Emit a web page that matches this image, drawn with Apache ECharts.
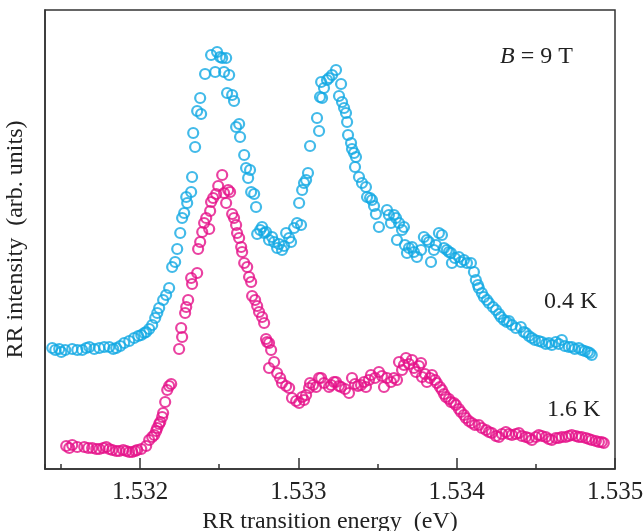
<!DOCTYPE html>
<html>
<head>
<meta charset="utf-8">
<script src="https://cdn.jsdelivr.net/npm/echarts@6/dist/echarts.min.js"></script>
<style>
  html, body { margin: 0; padding: 0; background: #fff; }
  #chart { width: 643px; height: 531px; }
</style>
</head>
<body>
<div id="chart"></div>
<script>
// energies in eV, intensity in arbitrary units
var energy04 = [
  1.531446, 1.531465, 1.531490, 1.531503, 1.531528, 1.531572, 1.531604, 1.531635, 1.531661, 1.531680,
  1.531711, 1.531743, 1.531774, 1.531806, 1.531831, 1.531850, 1.531875, 1.531900, 1.531932, 1.531963,
  1.531989, 1.532008, 1.532027, 1.532039, 1.532058, 1.532077, 1.532096, 1.532109, 1.532121, 1.532146,
  1.532165, 1.532184, 1.532203, 1.532222, 1.532235, 1.532254, 1.532266, 1.532279, 1.532292, 1.532298,
  1.532323, 1.532329, 1.532336, 1.532348, 1.532361, 1.532380, 1.532386, 1.532411, 1.532449, 1.532475,
  1.532487, 1.532506, 1.532519, 1.532531, 1.532544, 1.532563, 1.532550, 1.532582, 1.532594, 1.532607,
  1.532626, 1.532632, 1.532658, 1.532670, 1.532683, 1.532695, 1.532702, 1.532721, 1.532733, 1.532740,
  1.532759, 1.532771, 1.532784, 1.532796, 1.532815, 1.532834, 1.532847, 1.532866, 1.532878, 1.532897,
  1.532910, 1.532923, 1.532942, 1.532954, 1.532973, 1.532992, 1.533017, 1.533005, 1.533024, 1.533036,
  1.533049, 1.533061, 1.533074, 1.533118, 1.533131, 1.533137, 1.533144, 1.533150, 1.533162, 1.533181,
  1.533194, 1.533213, 1.533238, 1.533257, 1.533270, 1.533276, 1.533289, 1.533301, 1.533308, 1.533314,
  1.533333, 1.533339, 1.533352, 1.533364, 1.533358, 1.533383, 1.533402, 1.533427, 1.533434, 1.533453,
  1.533465, 1.533478, 1.533490, 1.533509, 1.533560, 1.533572, 1.533585, 1.533604, 1.533617, 1.533636,
  1.533623, 1.533655, 1.533667, 1.533673, 1.533686, 1.533699, 1.533718, 1.533730, 1.533749, 1.533775,
  1.533793, 1.533812, 1.533825, 1.533838, 1.533856, 1.533869, 1.533888, 1.533907, 1.533920, 1.533938,
  1.533951, 1.533964, 1.533970, 1.533989, 1.534014, 1.534027, 1.534046, 1.534065, 1.534090, 1.534109,
  1.534121, 1.534134, 1.534140, 1.534159, 1.534172, 1.534191, 1.534204, 1.534229, 1.534248, 1.534267,
  1.534279, 1.534298, 1.534317, 1.534330, 1.534349, 1.534374, 1.534405, 1.534424, 1.534437, 1.534456,
  1.534475, 1.534494, 1.534519, 1.534538, 1.534563, 1.534582, 1.534601, 1.534626, 1.534645, 1.534664,
  1.534683, 1.534708, 1.534727, 1.534746, 1.534771, 1.534790, 1.534809, 1.534828, 1.534841, 1.534853
];
var intensity04 = [
  121, 119, 120, 117, 119, 120, 119, 119, 121, 122,
  120, 121, 122, 122, 120, 121, 123, 126, 128, 131,
  133, 134, 136, 137, 140, 144, 151, 156, 161, 169,
  174, 181, 202, 207, 220, 236, 251, 256, 272, 266,
  277, 292, 336, 322, 358, 371, 355, 395, 414, 397,
  417, 412, 411, 397, 411, 394, 376, 374, 368, 342,
  345, 332, 314, 301, 291, 299, 277, 275, 262, 235,
  239, 242, 236, 237, 229, 232, 227, 221, 225, 219,
  223, 236, 231, 227, 241, 246, 244, 266, 279, 286,
  289, 296, 323, 351, 338, 372, 387, 371, 381, 389,
  391, 394, 399, 373, 385, 367, 361, 356, 347, 334,
  326, 320, 316, 312, 302, 292, 286, 282, 272, 271,
  269, 263, 255, 242, 259, 254, 246, 254, 251, 246,
  229, 239, 242, 224, 216, 221, 222, 217, 212, 219,
  232, 229, 227, 207, 219, 224, 236, 234, 221, 219,
  217, 216, 206, 211, 212, 207, 209, 206, 206, 197,
  189, 184, 181, 176, 172, 169, 166, 162, 159, 155,
  152, 149, 147, 148, 144, 141, 142, 137, 136, 133,
  131, 129, 128, 127, 125, 126, 124, 127, 125, 129,
  123, 122, 122, 120, 121, 119, 118, 117, 116, 114
];

var energy16 = [
  1.531534, 1.531553, 1.531572, 1.531604, 1.531648, 1.531673, 1.531698, 1.531724, 1.531743, 1.531768,
  1.531787, 1.531806, 1.531825, 1.531850, 1.531869, 1.531894, 1.531913, 1.531932, 1.531951, 1.531970,
  1.531982, 1.532008, 1.532039, 1.532058, 1.532077, 1.532090, 1.532102, 1.532109, 1.532121, 1.532128,
  1.532140, 1.532146, 1.532159, 1.532172, 1.532184, 1.532197, 1.532247, 1.532260, 1.532266, 1.532285,
  1.532292, 1.532304, 1.532323, 1.532329, 1.532361, 1.532367, 1.532380, 1.532393, 1.532405, 1.532418,
  1.532437, 1.532443, 1.532449, 1.532462, 1.532481, 1.532494, 1.532519, 1.532531, 1.532544, 1.532557,
  1.532569, 1.532582, 1.532594, 1.532607, 1.532613, 1.532626, 1.532639, 1.532645, 1.532658, 1.532677,
  1.532689, 1.532702, 1.532708, 1.532727, 1.532740, 1.532752, 1.532771, 1.532784, 1.532796, 1.532803,
  1.532815, 1.532828, 1.532815, 1.532847, 1.532866, 1.532885, 1.532897, 1.532923, 1.532942, 1.532960,
  1.532986, 1.533005, 1.533024, 1.533036, 1.533049, 1.533068, 1.533074, 1.533093, 1.533112, 1.533131,
  1.533144, 1.533162, 1.533194, 1.533207, 1.533225, 1.533238, 1.533257, 1.533270, 1.533295, 1.533320,
  1.533339, 1.533358, 1.533377, 1.533396, 1.533415, 1.533427, 1.533446, 1.533459, 1.533484, 1.533509,
  1.533528, 1.533541, 1.533560, 1.533585, 1.533604, 1.533623, 1.533636, 1.533655, 1.533667, 1.533680,
  1.533699, 1.533718, 1.533730, 1.533743, 1.533762, 1.533775, 1.533781, 1.533800, 1.533812, 1.533831,
  1.533844, 1.533863, 1.533875, 1.533894, 1.533907, 1.533920, 1.533932, 1.533951, 1.533964, 1.533983,
  1.533995, 1.534014, 1.534027, 1.534046, 1.534058, 1.534077, 1.534096, 1.534115, 1.534140, 1.534159,
  1.534185, 1.534204, 1.534222, 1.534248, 1.534267, 1.534286, 1.534311, 1.534330, 1.534349, 1.534374,
  1.534393, 1.534412, 1.534437, 1.534456, 1.534475, 1.534500, 1.534519, 1.534538, 1.534563, 1.534582,
  1.534601, 1.534626, 1.534645, 1.534664, 1.534689, 1.534708, 1.534727, 1.534753, 1.534771, 1.534790,
  1.534816, 1.534835, 1.534853, 1.534879, 1.534898, 1.534916, 1.534929
];
var intensity16 = [
  23, 21, 24, 22, 22, 21, 21, 20, 20, 21,
  22, 20, 19, 18, 18, 19, 18, 17, 17, 18,
  19, 20, 23, 29, 32, 34, 38, 41, 45, 47,
  52, 56, 67, 79, 83, 85, 120, 141, 132, 156,
  162, 169, 191, 185, 196, 220, 227, 237, 246, 251,
  240, 258, 267, 271, 275, 283, 294, 276, 266, 279,
  277, 255, 251, 244, 236, 231, 222, 217, 206, 202,
  192, 187, 173, 169, 163, 157, 152, 146, 130, 127,
  126, 119, 101, 107, 96, 91, 86, 83, 81, 71,
  68, 66, 72, 69, 74, 81, 86, 84, 82, 91,
  91, 86, 82, 84, 87, 87, 83, 82, 80, 76,
  91, 85, 83, 84, 87, 82, 89, 94, 91, 97,
  93, 82, 91, 87, 91, 89, 107, 99, 104, 111,
  105, 109, 101, 97, 103, 106, 92, 95, 87, 91,
  94, 89, 86, 82, 79, 75, 72, 70, 67, 66,
  64, 60, 57, 54, 51, 48, 46, 44, 44, 41,
  39, 37, 36, 33, 32, 35, 37, 35, 34, 35,
  36, 33, 32, 31, 29, 32, 34, 33, 32, 30,
  29, 31, 31, 32, 32, 33, 34, 33, 32, 32,
  31, 30, 29, 28, 27, 27, 26
];

var colorCold = '#13a9e3';
var colorWarm = '#e5118a';
var serif = 'Liberation Serif';

function pairs(xs, ys) {
  var out = [];
  for (var i = 0; i < xs.length; i++) out.push([xs[i], ys[i]]);
  return out;
}

var myChart = echarts.init(document.getElementById('chart'));
var option = {
  animation: false,
  grid: {
    left: 45, right: 28, top: 10, bottom: 62,
    outerBoundsMode: 'none', containLabel: false,
    show: true, borderColor: '#333', borderWidth: 1.5, backgroundColor: 'transparent'
  },
  xAxis: [
    {
      type: 'value', min: 1.5314, max: 1.535, splitNumber: 4,
      position: 'bottom',
      axisLine: { lineStyle: { color: '#333', width: 1.5 } },
      axisTick: { inside: true, length: 11, lineStyle: { color: '#333', width: 1.5 } },
      axisLabel: {
        showMinLabel: false, color: '#222', fontFamily: serif, fontSize: 25, margin: 11,
        formatter: function (v) { return v.toFixed(3); }
      },
      splitLine: { show: false },
      name: 'RR transition energy  (eV)', nameLocation: 'middle', nameGap: 38,
      nameTextStyle: { color: '#222', fontFamily: serif, fontSize: 24 }
    },
    {
      // minor ticks every 0.0005 eV
      type: 'value', min: 1.5314, max: 1.535, splitNumber: 8,
      position: 'bottom',
      axisLine: { show: false },
      axisTick: { inside: true, length: 5, lineStyle: { color: '#333', width: 1.5 } },
      axisLabel: { show: false },
      splitLine: { show: false }
    }
  ],
  yAxis: {
    type: 'value', min: 0, max: 459,
    axisLine: { show: true, lineStyle: { color: '#333', width: 1.5 } },
    axisTick: { show: false },
    axisLabel: { show: false },
    splitLine: { show: false },
    name: 'RR intensity  (arb. units)', nameLocation: 'middle', nameGap: 17, nameRotate: 90,
    nameTextStyle: { color: '#222', fontFamily: serif, fontSize: 24 }
  },
  graphic: [
    {
      type: 'text', left: 500, top: 45,
      style: {
        text: '{i|B} = 9 T', fill: '#222', font: '24px "Liberation Serif"',
        rich: { i: { fontStyle: 'italic', fontFamily: serif, fontSize: 24, fill: '#222' } }
      }
    },
    { type: 'text', left: 544, top: 290, style: { text: '0.4 K', fill: '#222', font: '24px "Liberation Serif"' } },
    { type: 'text', left: 547, top: 398, style: { text: '1.6 K', fill: '#222', font: '24px "Liberation Serif"' } }
  ],
  series: [
    {
      name: '0.4 K', type: 'scatter', xAxisIndex: 0,
      data: pairs(energy04, intensity04),
      symbol: 'circle', symbolSize: 10,
      itemStyle: { color: 'rgba(255,255,255,0)', borderColor: colorCold, borderWidth: 2.2 }
    },
    {
      name: '1.6 K', type: 'scatter', xAxisIndex: 0,
      data: pairs(energy16, intensity16),
      symbol: 'circle', symbolSize: 10,
      itemStyle: { color: 'rgba(255,255,255,0)', borderColor: colorWarm, borderWidth: 2.2 }
    }
  ]
};
myChart.setOption(option);
</script>
</body>
</html>
